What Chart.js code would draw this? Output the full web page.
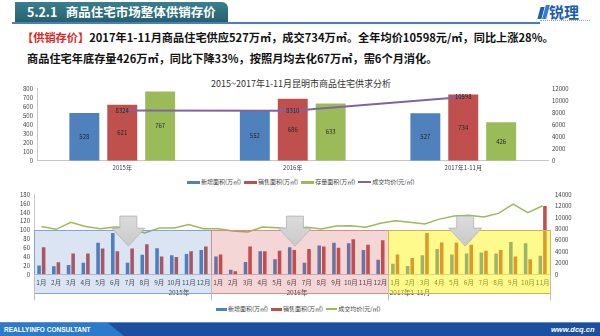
<!DOCTYPE html>
<html><head><meta charset="utf-8">
<script src="https://cdn.jsdelivr.net/npm/chart.js@4.4.0/dist/chart.umd.min.js"></script>
<style>
html,body{margin:0;padding:0;background:#fff;}
body{width:600px;height:336px;position:relative;overflow:hidden;font-family:"Noto Sans CJK SC","Noto Sans",sans-serif;}
.abs{position:absolute;}
#tab{left:15px;top:2px;width:213px;height:20px;background:linear-gradient(#3a7f8d,#25616e);border-radius:0 6px 0 0;}
#tabtxt{left:27px;top:2px;height:20px;line-height:20px;color:#fff;font-weight:bold;font-size:12.5px;white-space:pre;}
#hline{left:12px;top:22px;width:528px;height:2px;background:#4a7ebf;}
#logo{left:549px;top:4px;font-size:15px;font-weight:bold;color:#1b5db0;line-height:16px;letter-spacing:0px;}
#logoicon1{left:539px;top:7px;width:4px;height:12px;background:#1b5db0;transform:skewX(-15deg);}
#logoicon2{left:544px;top:5px;width:4px;height:14px;background:#2f7fd0;transform:skewX(-15deg);}
#logodots{left:540px;top:20px;width:50px;height:0;border-top:1px dotted #7aa6d8;}
.line{left:0;font-size:11.2px;font-weight:bold;color:#111;white-space:nowrap;line-height:14px;}
#t1{left:22px;top:30px;}
#t2{left:27px;top:51px;}
.red{color:#e0261c;}
#ctitle{left:150px;width:302px;top:78px;text-align:center;font-size:9px;color:#333;line-height:12px;}
.legend{display:flex;align-items:center;font-size:6px;color:#404040;line-height:8px;white-space:nowrap;}
.legend .b{display:inline-block;width:13px;height:3px;margin-right:1px;}
.legend .l{display:inline-block;width:13px;height:1.5px;margin-right:1px;}
.legend span.t{margin-right:3px;}
#leg1{left:187px;top:178px;}
#leg2{left:216px;top:305px;}
#leg2 .b,#leg2 .l{width:11px;}
#c1{left:0;top:76px;}
#c2{left:0;top:186px;}
#foot{left:0;top:322px;width:600px;height:14px;background:#1c4f9e;border-top:1px solid #5d8fd0;box-sizing:border-box;}
#footL{left:0;top:323px;width:125px;height:13px;background:#2b7bc9;clip-path:polygon(0 0,108px 0,124px 13px,0 13px);}
#footTxt{left:4px;top:323px;height:13px;line-height:13px;font-family:"Liberation Sans",sans-serif;font-weight:bold;font-size:6.5px;color:#fff;}
#footUrl{left:551px;top:323px;height:13px;line-height:13px;font-family:"Liberation Sans",sans-serif;font-weight:bold;font-style:italic;font-size:7.5px;color:#fff;}
</style></head>
<body>
<div id="tab" class="abs"></div>
<div id="tabtxt" class="abs">5.2.1   商品住宅市场整体供销存价</div>
<div id="hline" class="abs"></div>
<div id="logoicon1" class="abs"></div>
<div id="logoicon2" class="abs"></div>
<div id="logo" class="abs">锐理</div>
<div id="logodots" class="abs"></div>
<div id="t1" class="abs line"><span class="red">【供销存价】</span>2017年1-11月商品住宅供应527万㎡，成交734万㎡。全年均价10598元/㎡，同比上涨28%。</div>
<div id="t2" class="abs line">商品住宅年底存量426万㎡，同比下降33%，按照月均去化67万㎡，需6个月消化。</div>
<div id="ctitle" class="abs">2015~2017年1-11月昆明市商品住宅供求分析</div>
<canvas id="c1" class="abs" width="600" height="100"></canvas>
<canvas id="c2" class="abs" width="600" height="118"></canvas>
<div id="leg1" class="abs legend">
  <i class="b" style="background:#4F81BD"></i><span class="t">新增面积(万㎡)</span>
  <i class="b" style="background:#C0504D"></i><span class="t">销售面积(万㎡)</span>
  <i class="b" style="background:#9BBB59"></i><span class="t">存量面积(万㎡)</span>
  <i class="l" style="background:#8064A2"></i><span class="t">成交均价(元/㎡)</span>
</div>
<div id="leg2" class="abs legend">
  <i class="b" style="background:#4F81BD"></i><span class="t">新增面积(万㎡)</span>
  <i class="b" style="background:#C0504D"></i><span class="t">销售面积(万㎡)</span>
  <i class="l" style="background:#9BBB59"></i><span class="t">成交均价(元/㎡)</span>
</div>
<div id="foot" class="abs"></div>
<div id="footL" class="abs"></div>
<div id="footTxt" class="abs">REALLYINFO CONSULTANT</div>
<div id="footUrl" class="abs">www.dcq.cn</div>
<script>
// ---- top chart data ----
const topCategories = ['2015年','2016年','2017年1-11月'];
const topNewSupply = [528, 552, 527];
const topSales = [621, 686, 734];
const topStock = [767, 633, 426];
const topAvgPrice = [8324, 8310, 10598];
const topLeftTicks = [0,100,200,300,400,500,600,700,800];
const topRightTicks = [0,2000,4000,6000,8000,10000,12000];

// ---- bottom chart data ----
const monthLabels = ['1月','2月','3月','4月','5月','6月','7月','8月','9月','10月','11月','12月',
                     '1月','2月','3月','4月','5月','6月','7月','8月','9月','10月','11月','12月',
                     '1月','2月','3月','4月','5月','6月','7月','8月','9月','10月','11月'];
const yearLabels = ['2015年','2016年','2017年1-11月'];
const yearMonthCounts = [12, 12, 11];
const monthlyNewSupply = [20,18,21,26,71,93,26,44,59,43,46,55,
                          40,10,28,52,34,61,26,65,71,70,55,33,
                          24,19,43,57,45,47,49,47,73,70,42];
const monthlySales = [61,27,47,47,58,52,58,68,40,39,52,63,
                      45,7,63,52,53,55,57,63,60,79,67,77,
                      45,37,93,72,71,67,53,55,40,34,154];
const monthlyAvgPrice = [8400,7900,9130,8400,8010,8290,8180,7280,8120,8120,8740,8010,
                         8010,7590,7420,8310,8170,7900,8280,7950,8480,8530,8250,8960,
                         9410,9130,8850,9690,10250,10360,10080,10700,12320,10810,12040];
const bottomLeftTicks = [0,20,40,60,80,100,120,140,160,180];
const bottomRightTicks = [0,2000,4000,6000,8000,10000,12000,14000];

Chart.defaults.font.family = '"Noto Sans CJK SC","Liberation Sans",sans-serif';
Chart.defaults.color = '#404040';

const valueLabels = {
  id:'valueLabels',
  afterDatasetsDraw(chart){
    const ctx = chart.ctx; ctx.save();
    ctx.font = '6px "Noto Sans CJK SC","Liberation Sans",sans-serif';
    ctx.fillStyle = '#262626'; ctx.textAlign = 'center'; ctx.textBaseline = 'middle';
    chart.data.datasets.forEach((ds,i)=>{
      const meta = chart.getDatasetMeta(i);
      meta.data.forEach((el,j)=>{
        const y = meta.type === 'bar' ? (el.y + el.base)/2 : el.y;
        ctx.fillText(String(ds.data[j]), el.x, y);
      });
    });
    ctx.restore();
  }
};

const axisFont = {size:6};
const plain = v => String(v);
function fixedTicks(list){ return s => { s.ticks = list.map(v=>({value:v})); }; }

new Chart(document.getElementById('c1'), {
  type:'bar',
  data:{labels: topCategories, datasets:[
    {type:'line', label:'成交均价(元/㎡)', data: topAvgPrice, yAxisID:'y2', xAxisID:'x', borderColor:'#8064A2', borderWidth:2, pointRadius:0, order:0},
    {label:'新增面积(万㎡)', data: topNewSupply, backgroundColor:'#4F81BD', yAxisID:'y', xAxisID:'x', order:1},
    {label:'销售面积(万㎡)', data: topSales, backgroundColor:'#C0504D', yAxisID:'y', xAxisID:'x', order:1},
    {label:'存量面积(万㎡)', data: topStock, backgroundColor:'#9BBB59', yAxisID:'y', xAxisID:'x', order:1}
  ]},
  options:{
    animation:false, responsive:false, maintainAspectRatio:false,
    layout:{padding:{top:12.5,left:0,right:0,bottom:0}},
    plugins:{legend:{display:false}, tooltip:{enabled:false}, title:{display:false}},
    datasets:{bar:{categoryPercentage:0.667, barPercentage:0.79}},
    scales:{
      x:{grid:{display:false, drawTicks:false}, border:{display:true, color:'#c8c8c8'}, ticks:{font:axisFont, padding:3}, afterFit:s=>{s.height=15.3;}},
      y:{position:'left', min:0, max:800, grid:{display:false, drawTicks:false}, border:{display:true, color:'#c8c8c8'},
         ticks:{font:axisFont, padding:4, autoSkip:false, callback:plain}, afterBuildTicks:fixedTicks(topLeftTicks), afterFit:s=>{s.width=37;}},
      y2:{position:'right', min:0, max:12000, grid:{display:false, drawTicks:false}, border:{display:false},
         ticks:{font:axisFont, padding:3.5, autoSkip:false, callback:plain}, afterBuildTicks:fixedTicks(topRightTicks), afterFit:s=>{s.width=51.5;}}
    }
  },
  plugins:[valueLabels]
});

const yearCenters = [];
(function(){ let s=0; yearMonthCounts.forEach(n=>{ yearCenters.push(s + n/2); s += n; }); })();

const regionFills = ['rgba(70,120,195,0.20)','rgba(205,70,70,0.22)','rgba(255,245,0,0.45)'];
const regionBorders = ['#86a3cf','#d98c8a','#d1b15a'];
const arrowSlots = [6.4, 17.7, 29.25];

const regions = {
  id:'regions',
  afterDraw(chart){
    const y = chart.scales.y, ctx = chart.ctx, ca = chart.chartArea;
    const w = (ca.right - ca.left) / monthLabels.length;
    const top = y.getPixelForValue(100), bottom = ca.bottom + 18.7;
    ctx.save();
    let s = 0;
    yearMonthCounts.forEach((n,k)=>{
      const x0 = ca.left + s*w, x1 = ca.left + (s+n)*w;
      ctx.fillStyle = regionFills[k];
      ctx.fillRect(x0, top, x1-x0, bottom-top);
      ctx.strokeStyle = regionBorders[k]; ctx.lineWidth = 1;
      ctx.strokeRect(Math.round(x0)+0.5, Math.round(top)+0.5, Math.round(x1-x0), Math.round(bottom-top));
      s += n;
    });
    ctx.strokeStyle = '#bdbdbd'; ctx.lineWidth = 1;
    let b = 0;
    [0].concat(yearMonthCounts).forEach(n=>{
      b += n;
      const px = Math.round(ca.left + b*w)+0.5;
      ctx.beginPath(); ctx.moveTo(px, ca.bottom); ctx.lineTo(px, ca.bottom+26); ctx.stroke();
    });
    arrowSlots.forEach(u=>{
      const cx = ca.left + u*w;
      const t0 = ca.top + 21.5, t1 = ca.top + 33.5, tip = ca.top + 51.5;
      ctx.beginPath();
      ctx.moveTo(cx-8.5, t0); ctx.lineTo(cx+8.5, t0); ctx.lineTo(cx+8.5, t1);
      ctx.lineTo(cx+16.5, t1); ctx.lineTo(cx, tip); ctx.lineTo(cx-16.5, t1);
      ctx.lineTo(cx-8.5, t1); ctx.closePath();
      const g = ctx.createLinearGradient(0, t0, 0, tip);
      g.addColorStop(0, '#dcdcdc'); g.addColorStop(1, '#c9c9c9');
      ctx.fillStyle = g; ctx.fill();
      ctx.strokeStyle = '#b3b3b3'; ctx.lineWidth = 0.8; ctx.stroke();
    });
    ctx.restore();
  }
};

new Chart(document.getElementById('c2'), {
  type:'bar',
  data:{labels: monthLabels, datasets:[
    {type:'line', label:'成交均价(元/㎡)', data: monthlyAvgPrice, yAxisID:'y2', xAxisID:'x', borderColor:'#9BBB59', borderWidth:1.5, pointRadius:0, order:0},
    {label:'新增面积(万㎡)', data: monthlyNewSupply, backgroundColor:'#4F81BD', yAxisID:'y', xAxisID:'x', order:1},
    {label:'销售面积(万㎡)', data: monthlySales, backgroundColor:'#C0504D', yAxisID:'y', xAxisID:'x', order:1}
  ]},
  options:{
    animation:false, responsive:false, maintainAspectRatio:false,
    layout:{padding:{top:5.5,left:0,right:0,bottom:0}},
    plugins:{legend:{display:false}, tooltip:{enabled:false}, title:{display:false}},
    datasets:{bar:{categoryPercentage:0.62, barPercentage:0.78}},
    scales:{
      x:{grid:{display:false, drawTicks:false}, border:{display:true, color:'#c8c8c8'},
         ticks:{font:{size:6.5}, autoSkip:false, maxRotation:0, padding:4}, afterFit:s=>{s.height=14;}},
      x2:{type:'linear', position:'bottom', weight:1, min:0, max:monthLabels.length, grid:{display:false, drawTicks:false}, border:{display:false},
         ticks:{font:{size:6.5}, autoSkip:false, maxRotation:0, padding:0,
                callback:v=>{const i = yearCenters.indexOf(v); return i>=0 ? yearLabels[i] : '';}},
         afterBuildTicks:fixedTicks(yearCenters), afterFit:s=>{s.height=15.7;}},
      y:{position:'left', min:0, max:180, grid:{display:false, drawTicks:false}, border:{display:true, color:'#c8c8c8'},
         ticks:{font:axisFont, padding:4, autoSkip:false, callback:plain}, afterBuildTicks:fixedTicks(bottomLeftTicks), afterFit:s=>{s.width=34;}},
      y2:{position:'right', min:0, max:14000, grid:{display:false, drawTicks:false}, border:{display:false},
         ticks:{font:axisFont, padding:5, autoSkip:false, callback:plain}, afterBuildTicks:fixedTicks(bottomRightTicks), afterFit:s=>{s.width=50;}}
    }
  },
  plugins:[regions]
});
</script>
</body></html>
